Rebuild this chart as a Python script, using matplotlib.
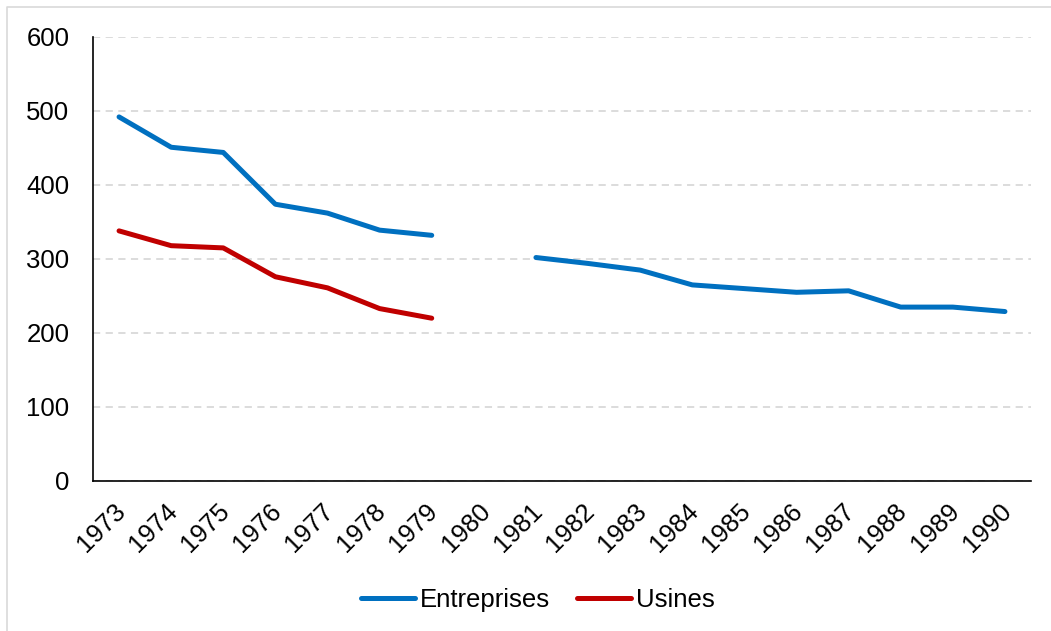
import numpy as np
import matplotlib
matplotlib.use('Agg')
import matplotlib.pyplot as plt
import matplotlib.transforms as mtransforms
from matplotlib.lines import Line2D

plt.rcParams['font.family'] = ['Liberation Sans', 'DejaVu Sans']

annees = [str(a) for a in range(1973, 1991)]
entreprises = [492, 451, 444, 374, 362, 339, 332, np.nan, 302, 294, 285, 265, 260, 255, 257, 235, 235, 229]
usines = [338, 318, 315, 276, 261, 233, 220] + [np.nan] * 11

fig = plt.figure(figsize=(10.51, 6.31), dpi=100)
ax = fig.add_axes([93 / 1051, 1 - 481 / 631, (1031 - 93) / 1051, (481 - 37) / 631])

x = np.arange(len(annees))
ax.plot(x, entreprises, color='#0070c0', lw=3.6, solid_capstyle='round', solid_joinstyle='round', label='Entreprises')
ax.plot(x, usines, color='#c00000', lw=3.6, solid_capstyle='round', solid_joinstyle='round', label='Usines')

ax.set_xlim(-0.5, len(annees) - 0.5)
ax.set_ylim(0, 600)
ax.set_yticks(range(0, 601, 100))
ax.set_xticks(x)
ax.set_xticklabels(annees, rotation=45, ha='right', rotation_mode='anchor')
ax.tick_params(length=0, labelsize=18.5)
ax.tick_params(axis='y', pad=17)
ax.tick_params(axis='x', pad=13)
decal = mtransforms.ScaledTranslation(-6 / 100, 0, fig.dpi_scale_trans)
for lab in ax.get_xticklabels():
    lab.set_transform(lab.get_transform() + decal)
ax.yaxis.grid(True, color='#d9d9d9', linestyle=(0, (4, 3)), lw=1.3)
ax.set_axisbelow(True)
for s in ['top', 'right']:
    ax.spines[s].set_visible(False)
for s in ['left', 'bottom']:
    ax.spines[s].set_color('black')
    ax.spines[s].set_linewidth(1.2)

fig.legend(loc='center', bbox_to_anchor=(538 / 1051, 1 - 600 / 631), ncol=2, frameon=False,
           fontsize=18.5, handlelength=2.1, handletextpad=0.2, columnspacing=1.05)

# cadre gris en haut et a gauche
fig.lines.append(Line2D([7 / 1051, 7 / 1051, 1], [0, 1 - 7 / 631, 1 - 7 / 631],
                        transform=fig.transFigure, color='#d9d9d9', lw=1.2))

fig.savefig('out.png', dpi=100)
